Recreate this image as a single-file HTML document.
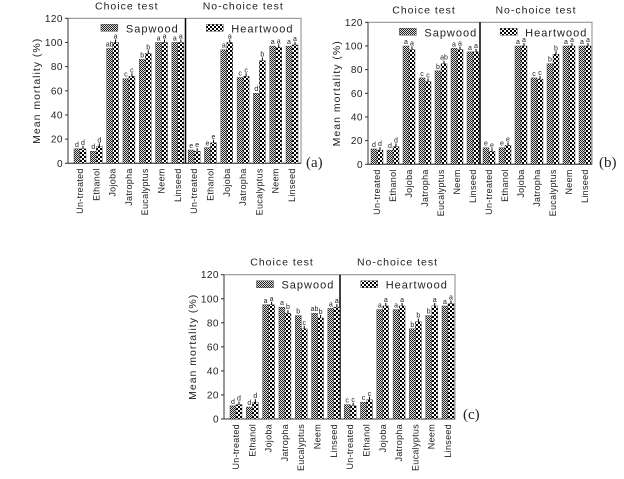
<!DOCTYPE html>
<html><head><meta charset="utf-8"><style>
body{margin:0;background:#fff;width:624px;height:474px;overflow:hidden}
svg text{font-family:"Liberation Sans",sans-serif;fill:#222}
</style></head><body>
<svg id="s" width="624" height="474" xmlns="http://www.w3.org/2000/svg">
<defs>
<pattern id="sap" width="2" height="2" patternUnits="userSpaceOnUse"><rect width="2" height="2" fill="#ddd"/><rect width="1" height="1" fill="#222"/><rect x="1" y="1" width="1" height="1" fill="#222"/></pattern>
<pattern id="heart" width="4" height="4" patternUnits="userSpaceOnUse"><rect width="4" height="4" fill="#fff"/><rect width="2" height="2" fill="#000"/><rect x="2" y="2" width="2" height="2" fill="#000"/></pattern>
</defs>
</svg>
<script>
const categories=["Un-treated","Ethanol","Jojoba","Jatropha","Eucalyptus","Neem","Linseed","Un-treated","Ethanol","Jojoba","Jatropha","Eucalyptus","Neem","Linseed"];
const yTicks=[0,20,40,60,80,100,120];
const sapA=[12,10,95,70,86,100,100,11,13,94,71,58,97,97];
const heartA=[12,14,100,72,91,100,100,10,17,100,72,85,96,98];
const sapLetA=["d","d","ab","c","b","a","a","e","e","a","c","d","a","a"];
const heartLetA=["d","d","a","c","b","a","a","e","e","a","c","b","a","a"];
const sapB=[13,12,100,73,79,98,95,14,14,100,73,85,100,100];
const heartB=[12,15,97,70,85,97,95,11,16,100,72,93,100,100];
const sapLetB=["d","d","a","c","b","a","a","e","e","a","c","b","a","a"];
const heartLetB=["d","d","a","c","ab","a","a","e","e","a","c","b","a","a"];
const sapC=[11,10,95,93,86,88,92,12,14,91,91,75,86,94];
const heartC=[12,14,95,88,75,84,93,11,16,94,94,81,94,96];
const sapLetC=["d","d","a","a","b","ab","a","c","c","a","a","b","b","a"];
const heartLetC=["d","d","a","b","c","b","a","c","c","a","a","b","a","a"];

const S=document.getElementById('s');
function el(t,a,p){const e=document.createElementNS('http://www.w3.org/2000/svg',t);for(const k in a)e.setAttribute(k,a[k]);(p||S).appendChild(e);return e;}
function txt(x,y,s,a,p){const e=el('text',Object.assign({x:x,y:y},a),p);e.textContent=s;return e;}

function panel(id,L,R,Y0,Y120,first,last,div,sap,heart,sl,hl,lab,labX,labY){
  const g=el('g',{});
  
  
  const y=v=>Y0-(v/120)*(Y0-Y120);
  const step=(last-first)/13;
  const cx=i=>first+i*step;
  el('rect',{x:L,y:Y120,width:R-L,height:Y0-Y120,fill:'none',stroke:'#888','stroke-width':1},g);
  el('line',{x1:L,y1:Y120,x2:L,y2:Y0,stroke:'#333','stroke-width':1},g);
  el('line',{x1:L,y1:Y0,x2:R,y2:Y0,stroke:'#333','stroke-width':1},g);
  el('line',{x1:div,y1:Y120,x2:div,y2:Y0,stroke:'#000','stroke-width':1.5},g);
  yTicks.forEach(t=>{
    el('line',{x1:L-3,x2:L,y1:y(t),y2:y(t),stroke:'#333'},g);
    const tl=txt(L-5,y(t)+3.5,String(t),{'font-size':10,'text-anchor':'end','letter-spacing':'0.5'},g);
    
    
  });
  const yt=txt(0,0,'Mean mortality (%)',{'font-size':10.5,'text-anchor':'middle','letter-spacing':'1',transform:`translate(${L-28},${(Y0+Y120)/2}) rotate(-90)`},g);
  
  
  const t1=txt((L+div)/2,Y120-9,'Choice test',{'font-size':10.5,'text-anchor':'middle','letter-spacing':'1'},g);
  
  
  const t2=txt((div+R)/2,Y120-9,'No-choice test',{'font-size':10.5,'text-anchor':'middle','letter-spacing':'1'},g);
  
  
  categories.forEach((c,i)=>{
    const x=cx(i);
    const b1=el('rect',{x:x-6,y:y(sap[i]),width:6,height:Y0-y(sap[i]),fill:'url(#sap)',stroke:'#333','stroke-width':0.4},g);
    
    
    const b2=el('rect',{x:x,y:y(heart[i]),width:6,height:Y0-y(heart[i]),fill:'url(#heart)',stroke:'#333','stroke-width':0.4},g);
    
    
    el('line',{x1:x+3,x2:x+3,y1:y(heart[i])-3,y2:y(heart[i]),stroke:'#000'},g);
    txt(x-3,y(sap[i])-2,sl[i],{'font-size':7,'text-anchor':'middle'},g);
    txt(x+3,y(heart[i])-4,hl[i],{'font-size':7,'text-anchor':'middle'},g);
    const cl=txt(0,0,c,{'font-size':9,'text-anchor':'end','letter-spacing':'0.3',transform:`translate(${x+3},${Y0+5}) rotate(-90)`},g);
    
    
  });
  const lx1=L+(div-L)*0.28, lx2=div+(R-div)*0.18;
  const ly=Y120+6;
  const l1=el('g',{},g);
  
  
  el('rect',{x:lx1,y:ly,width:17,height:7,fill:'url(#sap)',stroke:'#333','stroke-width':0.4},l1);
  txt(lx1+25,ly+8,'Sapwood',{'font-size':11,'letter-spacing':'1'},l1);
  const l2=el('g',{},g);
  
  
  el('rect',{x:lx2,y:ly,width:17,height:7,fill:'url(#heart)',stroke:'#333','stroke-width':0.4},l2);
  txt(lx2+25,ly+8,'Heartwood',{'font-size':11,'letter-spacing':'1'},l2);
  const pl=txt(labX,labY,lab,{'font-size':15,style:'font-family:"Liberation Serif",serif'},g);
  
  
}
panel('a',68,301,163.3,18.3,80,292,185.5,sapA,heartA,sapLetA,heartLetA,'(a)',306,167);
panel('b',368,592,164.3,22.3,377,585,480,sapB,heartB,sapLetB,heartLetB,'(b)',599,167);
panel('c',224,455,419,274.7,236,448,340,sapC,heartC,sapLetC,heartLetC,'(c)',463,419);
</script>
</body></html>
